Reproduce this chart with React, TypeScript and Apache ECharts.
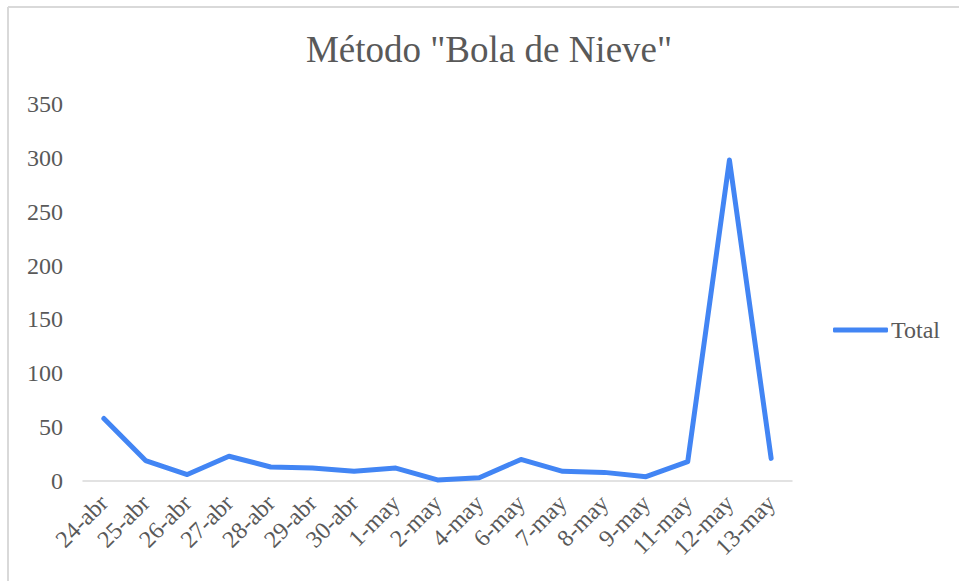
import React, { useEffect, useRef } from "react";
import * as echarts from "echarts";

const categories = ["24-abr", "25-abr", "26-abr", "27-abr", "28-abr", "29-abr", "30-abr", "1-may", "2-may", "4-may", "6-may", "7-may", "8-may", "9-may", "11-may", "12-may", "13-may"];
const totals = [58, 19, 6, 23, 13, 12, 9, 12, 1, 3, 20, 9, 8, 4, 18, 298, 21];
const seriesName = "Total";
const titleText = 'Método "Bola de Nieve"';

export default function App() {
  const ref = useRef<HTMLDivElement>(null);
  useEffect(() => {
    if (!ref.current) return;
    const chart = echarts.init(ref.current, undefined, { renderer: "svg" });
    const font = "'Liberation Serif', 'Times New Roman', serif";
    chart.setOption({
      animation: false,
      backgroundColor: "#ffffff",
      textStyle: { fontFamily: font },
      title: {
        text: titleText,
        left: 484,
        textAlign: "center",
        top: 26,
        textStyle: { fontFamily: font, fontSize: 37, fontWeight: "normal", color: "#595959" },
      },
      graphic: [
        { type: "line", shape: { x1: 8, y1: 7, x2: 959, y2: 7 }, style: { stroke: "#d9d9d9", lineWidth: 2 } },
        { type: "line", shape: { x1: 8, y1: 7, x2: 8, y2: 581 }, style: { stroke: "#d9d9d9", lineWidth: 2 } },
      ],
      legend: {
        data: [{ name: seriesName, icon: "roundRect" }],
        left: 828,
        top: 313,
        itemWidth: 55,
        itemHeight: 5,
        itemGap: 4,
        textStyle: { fontFamily: font, fontSize: 24, color: "#595959", padding: [0, 0, 0, -2] },
      },
      grid: { left: 83, right: 167, top: 104, bottom: 100, containLabel: false },
      xAxis: {
        type: "category",
        data: categories,
        boundaryGap: true,
        axisLine: { show: true, lineStyle: { color: "#d9d9d9", width: 1.5 } },
        axisTick: { show: false },
        axisLabel: {
          rotate: 45,
          interval: 0,
          margin: 18,
          fontFamily: font,
          fontSize: 24,
          color: "#595959",
        },
      },
      yAxis: {
        type: "value",
        min: 0,
        max: 350,
        interval: 50,
        splitLine: { show: false },
        axisLine: { show: false },
        axisTick: { show: false },
        axisLabel: { fontFamily: font, fontSize: 24, color: "#595959", margin: 20 },
      },
      series: [
        {
          name: seriesName,
          type: "line",
          data: totals,
          symbol: "none",
          lineStyle: { color: "#4285f4", width: 5, cap: "round", join: "round" },
          itemStyle: { color: "#4285f4" },
        },
      ],
    });
    return () => chart.dispose();
  }, []);
  return <div ref={ref} style={{ width: 959, height: 581, position: "absolute", left: 0, top: 0 }} />;
}
